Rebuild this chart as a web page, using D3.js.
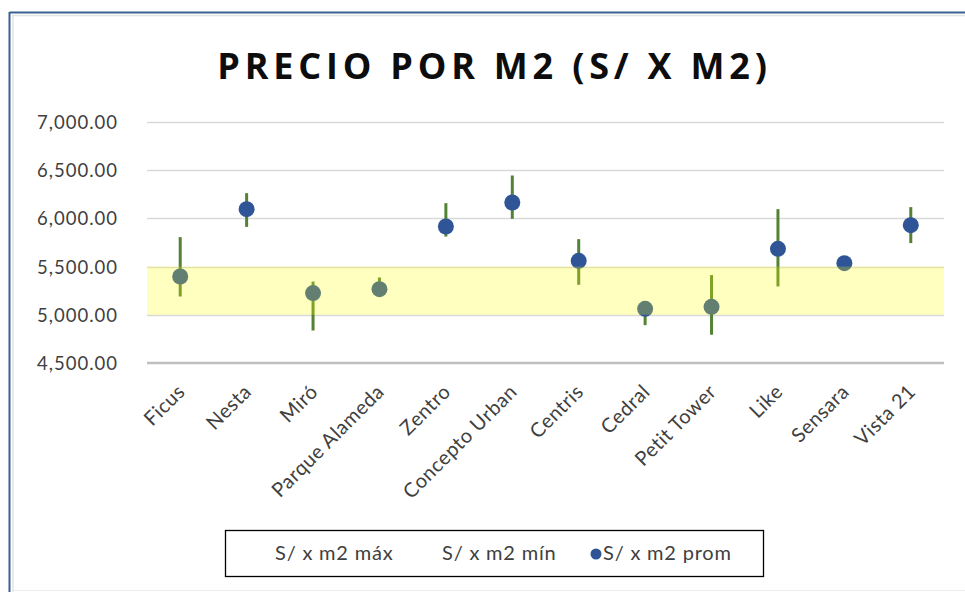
<!DOCTYPE html>
<html>
<head>
<meta charset="utf-8">
<script src="https://cdn.jsdelivr.net/npm/d3@7"></script>
<style>
  html, body { margin: 0; padding: 0; background: #fff; }
  svg { display: block; }
</style>
</head>
<body>
<svg id="chart" width="965" height="592"></svg>
<script>
const categories = ["Ficus", "Nesta", "Miró", "Parque Alameda", "Zentro", "Concepto Urban", "Centris", "Cedral", "Petit Tower", "Like", "Sensara", "Vista 21"];
const maxVals  = [5806, 6262, 5345, 5387, 6158, 6445, 5785, 5080, 5412, 6096, 5545, 6117];
const minVals  = [5190, 5912, 4837, 5245, 5812, 5996, 5311, 4893, 4793, 5294, 5530, 5744];
const promVals = [5397, 6096, 5225, 5266, 5916, 6165, 5560, 5062, 5083, 5684, 5536, 5930];
const yTicks = [4500, 5000, 5500, 6000, 6500, 7000];
const bandRange = [5000, 5500];
const title = "PRECIO POR M2 (S/ X M2)";
const legendLabels = ["S/ x m2 máx", "S/ x m2 mín", "S/ x m2 prom"];

const svg = d3.select("#chart");
const W = 965, H = 592;
const plot = { left: 147, right: 944, top: 122, bottom: 363 };

// outer frame
svg.append("rect").attr("x", 0).attr("y", 0).attr("width", W).attr("height", H).attr("fill", "#fff");
svg.append("line").attr("x1", 9.5).attr("x2", W).attr("y1", 12.5).attr("y2", 12.5).attr("stroke", "#3a6194").attr("stroke-width", 2);
svg.append("line").attr("x1", 9.5).attr("x2", 9.5).attr("y1", 12).attr("y2", H).attr("stroke", "#3a6194").attr("stroke-width", 2);
svg.append("line").attr("x1", 12).attr("x2", W).attr("y1", 15.5).attr("y2", 15.5).attr("stroke", "#e3e3e3").attr("stroke-width", 1.5);
svg.append("line").attr("x1", 13).attr("x2", 13).attr("y1", 15).attr("y2", H).attr("stroke", "#e3e3e3").attr("stroke-width", 1.5);
svg.append("line").attr("x1", 12).attr("x2", W).attr("y1", 590.5).attr("y2", 590.5).attr("stroke", "#ececec").attr("stroke-width", 1);

const x = d3.scaleBand().domain(categories).range([plot.left, plot.right]).paddingInner(0).paddingOuter(0);
const y = d3.scaleLinear().domain([4500, 7000]).range([plot.bottom, plot.top]);

// title
svg.append("text")
  .attr("x", 494.5).attr("y", 79)
  .attr("text-anchor", "middle")
  .attr("font-family", "'Open Sans', sans-serif")
  .attr("font-weight", "bold")
  .attr("font-size", 36)
  .attr("letter-spacing", 4.8)
  .attr("fill", "#0d0d0d")
  .text(title);

// gridlines
const grid = svg.append("g");
grid.selectAll("line").data(yTicks.filter(d => d !== 4500)).join("line")
  .attr("x1", plot.left).attr("x2", plot.right)
  .attr("y1", d => Math.round(y(d)) + 0.5).attr("y2", d => Math.round(y(d)) + 0.5)
  .attr("stroke", "#d9d9d9").attr("stroke-width", 1.5);

// y axis labels
const yAxis = d3.axisLeft(y).tickValues(yTicks).tickSize(0).tickPadding(0)
  .tickFormat(d3.format(",.2f"));
const yg = svg.append("g").attr("transform", "translate(118,0)").call(yAxis);
yg.select(".domain").remove();
yg.selectAll("text")
  .attr("font-family", "Lato, sans-serif")
  .attr("font-size", 18.5)
  .attr("letter-spacing", 1)
  .attr("fill", "#404040")
  .attr("dy", "0.35em");

// error lines (min to max)
const cx = d => x(d) + x.bandwidth() / 2;
svg.append("g").selectAll("line").data(categories).join("line")
  .attr("x1", (d) => cx(d)).attr("x2", (d) => cx(d))
  .attr("y1", (d, i) => y(maxVals[i])).attr("y2", (d, i) => y(minVals[i]))
  .attr("stroke", "#548235").attr("stroke-width", 3);

// average dots
svg.append("g").selectAll("circle").data(categories).join("circle")
  .attr("cx", d => cx(d)).attr("cy", (d, i) => y(promVals[i]))
  .attr("r", 8)
  .attr("fill", "#2f5597");

// highlight band drawn on top (semi-transparent)
svg.append("rect")
  .attr("x", plot.left).attr("width", plot.right - plot.left)
  .attr("y", y(bandRange[1])).attr("height", y(bandRange[0]) - y(bandRange[1]))
  .attr("fill", "rgba(255,255,0,0.25)");

// x axis line
svg.append("line")
  .attr("x1", plot.left).attr("x2", plot.right)
  .attr("y1", y(4500)).attr("y2", y(4500))
  .attr("stroke", "#bfbfbf").attr("stroke-width", 2.5);

// x labels
const xAxis = d3.axisBottom(x).tickSize(0).tickPadding(0);
const xg = svg.append("g").attr("transform", `translate(0,${y(4500)})`).call(xAxis);
xg.select(".domain").remove();
xg.selectAll("text")
  .attr("font-family", "Lato, sans-serif")
  .attr("font-size", 20)
  .attr("letter-spacing", 0.5)
  .attr("fill", "#404040")
  .attr("text-anchor", "end")
  .attr("dy", null)
  .attr("y", 0)
  .attr("transform", "translate(6,30) rotate(-45)");

// legend
const lg = svg.append("g");
lg.append("rect").attr("x", 225.5).attr("y", 530.5).attr("width", 538).attr("height", 46)
  .attr("fill", "#fff").attr("stroke", "#000").attr("stroke-width", 1.3);
const legendX = [275, 442, 603];
lg.selectAll("text").data(legendLabels).join("text")
  .attr("x", (d, i) => legendX[i]).attr("y", 553)
  .attr("dy", "0.35em")
  .attr("font-family", "Lato, sans-serif")
  .attr("font-size", 20)
  .attr("letter-spacing", 0.8)
  .attr("fill", "#404040")
  .text(d => d);
lg.append("circle").attr("cx", 596).attr("cy", 554).attr("r", 5.5).attr("fill", "#2f5597");
</script>
</body>
</html>
